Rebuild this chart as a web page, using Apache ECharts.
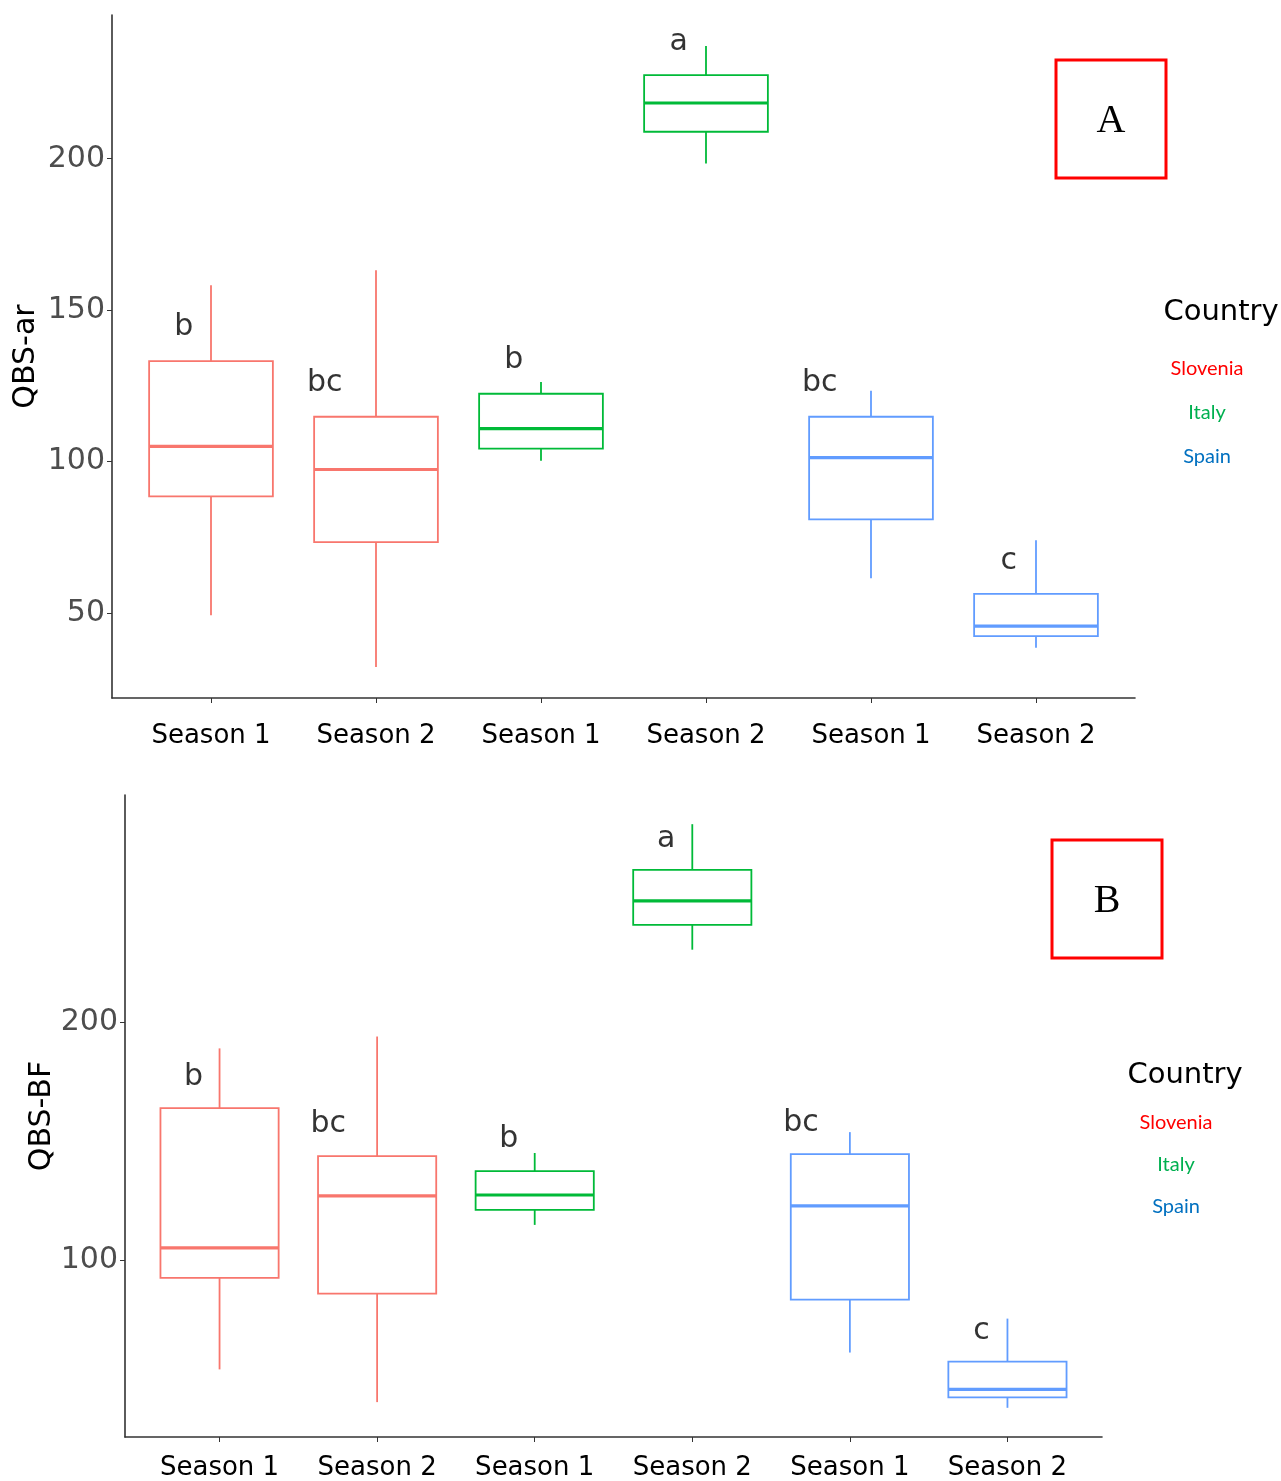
<!DOCTYPE html>
<html>
<head>
<meta charset="utf-8">
<script src="https://cdn.jsdelivr.net/npm/echarts@6/dist/echarts.min.js"></script>
<style>
  html, body { margin: 0; padding: 0; background: #fff; }
  #chart { width: 1281px; height: 1481px; }
</style>
</head>
<body>
<div id="chart"></div>
<script>
// x categories, one per box
const categories = ['Season 1', 'Season 2', 'Season 1', 'Season 2', 'Season 1', 'Season 2']
const boxCountry = ['Slovenia', 'Slovenia', 'Italy', 'Italy', 'Spain', 'Spain']
const countries = ['Slovenia', 'Italy', 'Spain']

// [low whisker, Q1, median, Q3, high whisker]
const qbsArStats = [
  [49.3, 88.5, 105.0, 133.2, 158.2],
  [32.2, 73.4, 97.4, 114.8, 163.2],
  [100.3, 104.3, 110.9, 122.4, 126.3],
  [198.4, 208.9, 218.4, 227.6, 237.2],
  [61.5, 80.9, 101.3, 114.8, 123.4],
  [38.5, 42.4, 45.7, 56.3, 74.0]
]
const qbsBfStats = [
  [53.8, 92.4, 105.0, 163.9, 189.1],
  [40.0, 85.7, 126.9, 143.7, 194.1],
  [114.7, 121.0, 127.3, 137.4, 145.0],
  [230.7, 241.2, 251.3, 264.3, 283.6],
  [60.9, 83.2, 122.7, 144.5, 153.8],
  [37.6, 42.0, 45.4, 57.1, 75.2]
]

// significance letters and the height they sit at
const qbsArLetters = ['b', 'bc', 'b', 'a', 'bc', 'c']
const qbsArLetterY = [144.4, 126.0, 133.6, 238.5, 126.0, 67.1]
const qbsBfLetters = ['b', 'bc', 'b', 'a', 'bc', 'c']
const qbsBfLetterY = [176.9, 157.1, 150.8, 277.3, 157.6, 69.7]

const qbsArTicks = [50, 100, 150, 200]
const qbsBfTicks = [100, 200]

const lineColor = { Slovenia: '#F8766D', Italy: '#00BA38', Spain: '#619CFF' }
const legendColor = { Slovenia: '#ff0000', Italy: '#00b050', Spain: '#0070c0' }

const chart = echarts.init(document.getElementById('chart'))

// ggplot style 5% padding of y range
const yLimits = (stats) => {
  const lo = Math.min(...stats.map(s => s[0]))
  const hi = Math.max(...stats.map(s => s[4]))
  const pad = (hi - lo) * 0.05
  return [lo - pad, hi + pad]
}

const renderBox = (params, api) => {
  const x = api.value(0)
  const color = api.visual('color')
  const half = api.size([0.75, 0])[0] / 2
  const pLow = api.coord([x, api.value(1)])
  const pQ1 = api.coord([x, api.value(2)])
  const pMed = api.coord([x, api.value(3)])
  const pQ3 = api.coord([x, api.value(4)])
  const pHigh = api.coord([x, api.value(5)])
  const cx = pMed[0]
  const thin = { stroke: color, lineWidth: 1.8, fill: null }
  return {
    type: 'group',
    children: [
      { type: 'line', shape: { x1: cx, y1: pHigh[1], x2: cx, y2: pQ3[1] }, style: thin },
      { type: 'line', shape: { x1: cx, y1: pQ1[1], x2: cx, y2: pLow[1] }, style: thin },
      { type: 'rect', shape: { x: cx - half, y: pQ3[1], width: half * 2, height: pQ1[1] - pQ3[1] },
        style: { stroke: color, lineWidth: 1.8, fill: '#fff' } },
      { type: 'line', shape: { x1: cx - half, y1: pMed[1], x2: cx + half, y2: pMed[1] },
        style: { stroke: color, lineWidth: 3.2 } }
    ]
  }
}

const xAxisFor = (gridIndex, margin) => ({
  type: 'value',
  gridIndex: gridIndex,
  min: -0.6,
  max: 5.6,
  splitLine: { show: false },
  axisLine: { onZero: false, lineStyle: { color: '#333', width: 1.6 } },
  axisTick: { show: true, length: 5, customValues: [0, 1, 2, 3, 4, 5], lineStyle: { color: '#333' } },
  axisLabel: {
    customValues: [0, 1, 2, 3, 4, 5],
    formatter: (v) => categories[Math.round(v)],
    color: '#000',
    fontFamily: 'DejaVu Sans',
    fontSize: 26,
    margin: margin
  }
})

const yAxisFor = (gridIndex, stats, ticks, name, gap) => {
  const lim = yLimits(stats)
  return {
    type: 'value',
    gridIndex: gridIndex,
    min: lim[0],
    max: lim[1],
    name: name,
    nameLocation: 'middle',
    nameRotate: 90,
    nameGap: gap,
    nameMoveOverlap: false,
    nameTextStyle: { color: '#000', fontFamily: 'DejaVu Sans', fontSize: 30 },
    splitLine: { show: false },
    axisLine: { show: true, onZero: false, lineStyle: { color: '#333', width: 1.6 } },
    axisTick: { show: true, length: 5, customValues: ticks, lineStyle: { color: '#333' } },
    axisLabel: {
      customValues: ticks,
      color: '#4d4d4d',
      fontFamily: 'DejaVu Sans',
      fontSize: 30,
      margin: 7
    }
  }
}

const series = []
const panels = [
  { stats: qbsArStats, letters: qbsArLetters, letterY: qbsArLetterY },
  { stats: qbsBfStats, letters: qbsBfLetters, letterY: qbsBfLetterY }
]
panels.forEach((p, gi) => {
  countries.forEach(c => {
    series.push({
      type: 'custom',
      name: c,
      xAxisIndex: gi,
      yAxisIndex: gi,
      itemStyle: { color: lineColor[c] },
      renderItem: renderBox,
      encode: { x: 0, y: [1, 2, 3, 4, 5] },
      data: p.stats.map((s, i) => [i].concat(s)).filter((d, i) => boxCountry[i] === c)
    })
  })
  series.push({
    type: 'scatter',
    xAxisIndex: gi,
    yAxisIndex: gi,
    symbolSize: 0,
    silent: true,
    label: {
      show: true,
      position: 'inside',
      formatter: (d) => d.data[2],
      color: '#000',
      fontFamily: 'DejaVu Sans',
      fontSize: 30
    },
    data: p.letters.map((l, i) => [i + (l.length > 1 ? -0.31 : -0.165), p.letterY[i], l])
  })
})

const legendText = (cx, y0, step) => countries.map((c, i) => ({
  type: 'text',
  x: cx,
  y: y0 + i * step,
  style: {
    text: c, fill: legendColor[c], font: '20px Lato',
    textAlign: 'center', textVerticalAlign: 'middle'
  }
}))

const option = {
  animation: false,
  backgroundColor: '#fff',
  grid: [
    { left: 112, top: 15, width: 1023, height: 683 },
    { left: 125, top: 795, width: 977, height: 643 }
  ],
  xAxis: [xAxisFor(0, 25), xAxisFor(1, 18)],
  yAxis: [
    yAxisFor(0, qbsArStats, qbsArTicks, 'QBS-ar', 71),
    yAxisFor(1, qbsBfStats, qbsBfTicks, 'QBS-BF', 68)
  ],
  series: series,
  graphic: [
    { type: 'text', x: 1221, y: 312, style: { text: 'Country', fill: '#000', font: '29px "DejaVu Sans"', textAlign: 'center', textVerticalAlign: 'middle' } },
    ...legendText(1207, 369, 44),
    { type: 'text', x: 1185, y: 1075, style: { text: 'Country', fill: '#000', font: '29px "DejaVu Sans"', textAlign: 'center', textVerticalAlign: 'middle' } },
    ...legendText(1176, 1123, 42),
    { type: 'rect', shape: { x: 1056, y: 60, width: 110, height: 118 }, style: { stroke: '#ff0000', lineWidth: 3, fill: null } },
    { type: 'text', x: 1111, y: 121, style: { text: 'A', fill: '#000', font: '40px "Liberation Serif"', textAlign: 'center', textVerticalAlign: 'middle' } },
    { type: 'rect', shape: { x: 1052, y: 840, width: 110, height: 118 }, style: { stroke: '#ff0000', lineWidth: 3, fill: null } },
    { type: 'text', x: 1107, y: 901, style: { text: 'B', fill: '#000', font: '40px "Liberation Serif"', textAlign: 'center', textVerticalAlign: 'middle' } }
  ]
}

chart.setOption(option)
</script>
</body>
</html>
